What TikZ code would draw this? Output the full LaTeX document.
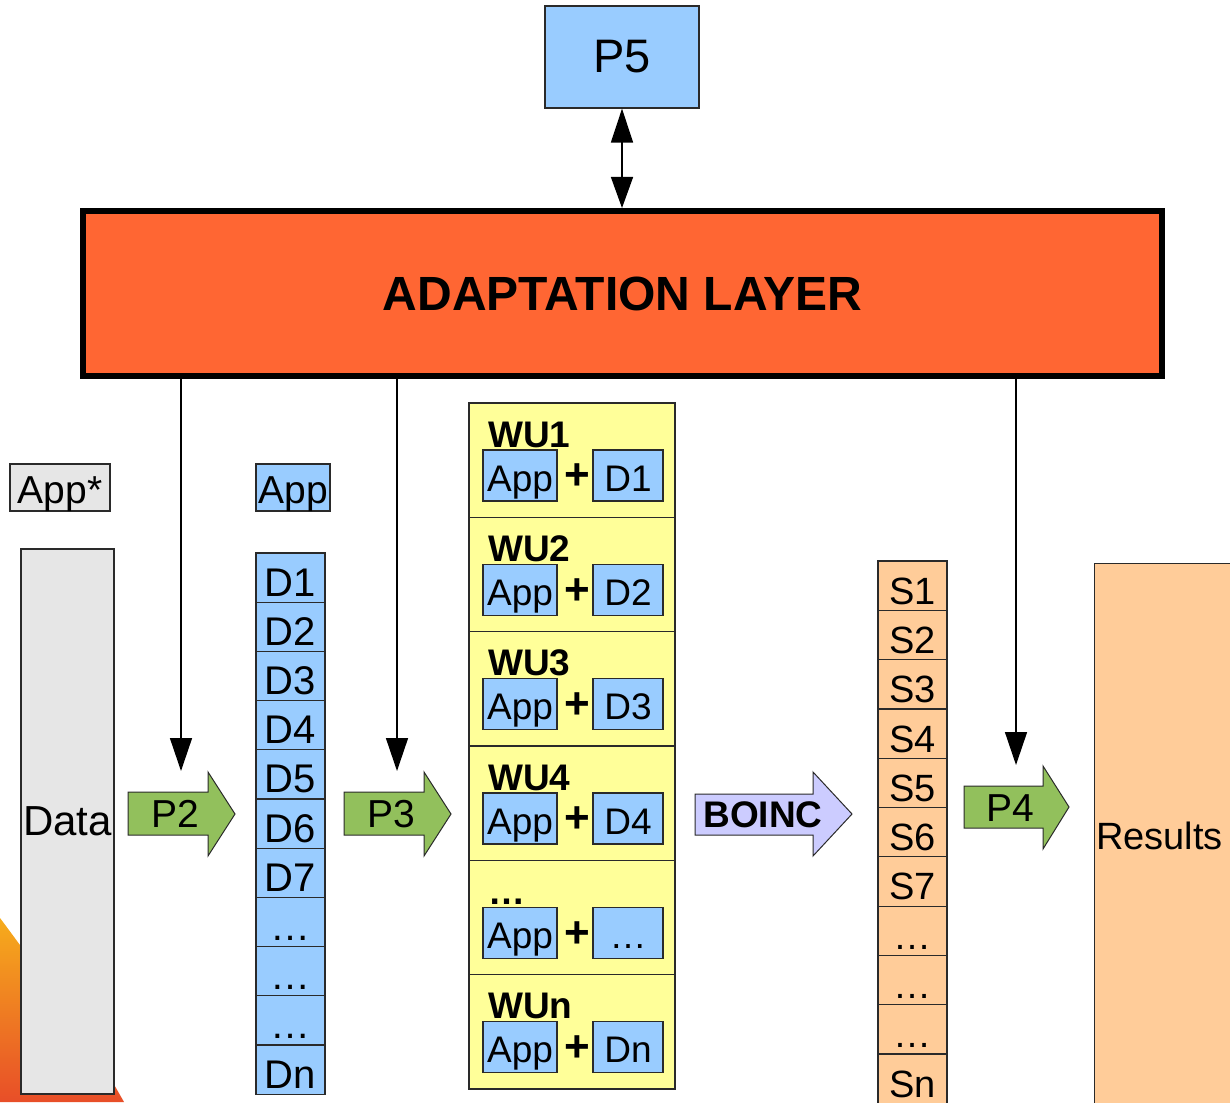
\documentclass[tikz,border=0pt]{standalone}
\usepackage{fontspec}
\setmainfont{Liberation Sans}
\usetikzlibrary{arrows.meta}
\definecolor{blu}{HTML}{99CCFF}
\definecolor{gry}{HTML}{E6E6E6}
\definecolor{ylw}{HTML}{FFFF99}
\definecolor{pch}{HTML}{FFCC99}
\definecolor{grn}{RGB}{146,192,92}
\definecolor{lav}{HTML}{CCCCFF}
\definecolor{orng}{HTML}{FF6633}
\definecolor{edge}{HTML}{2A2A2A}
\definecolor{bgtop}{RGB}{246,172,28}
\definecolor{bgbot}{RGB}{232,78,40}
\newcommand\fs[1]{\fontsize{#1}{#1}\selectfont}
\tikzset{
  box/.style={draw=edge, line width=1.2pt, inner sep=0pt},
  cellD/.style={box, fill=blu, minimum width=69pt, minimum height=49.2pt, text height=37pt, text depth=0pt, font=\fs{40}},
  cellS/.style={box, fill=pch, minimum width=69pt, minimum height=49.3pt, text height=37pt, text depth=0pt, font=\fs{38}},
  wucell/.style={box, fill=ylw, minimum width=206pt, minimum height=114.33pt},
  appbox/.style={box, fill=blu, minimum width=74pt, minimum height=51pt, text height=31pt, text depth=0pt, font=\fs{37}},
  dbox/.style={box, fill=blu, minimum width=70pt, minimum height=51pt, text height=31pt, text depth=0pt, font=\fs{37}},
  wutitle/.style={anchor=base west, inner sep=0pt, font=\fs{37}\bfseries},
  plus/.style={inner sep=0pt, font=\fs{44}\bfseries},
  fat/.style={draw=edge, line width=1pt},
  dn/.style={line width=1.5pt, -{Triangle[length=33pt,width=22pt]}},
}
\begin{document}
\begin{tikzpicture}[x=1pt,y=-1pt]
\useasboundingbox (0,0) rectangle (1230,1102);

% background decoration bottom-left
\shade[top color=bgtop, bottom color=bgbot] (0,918) .. controls (50,985) and (95,1050) .. (124,1102) -- (0,1102) -- cycle;

% P5 and adaptation layer
\node[box, fill=blu, minimum width=154pt, minimum height=102pt, font=\fs{47}] (p5) at (622,57) {P5};
\node[draw=black, line width=6pt, fill=orng, minimum width=1079pt, minimum height=165pt, inner sep=0pt, font=\fs{48}\bfseries] (layer) at (622.5,293.5) {ADAPTATION LAYER};
\draw[line width=1.5pt, {Triangle[length=34pt,width=22pt]}-{Triangle[length=31pt,width=22pt]}] (p5.south) -- (p5.south |- layer.north);

% down arrows
\coordinate (t2) at (181,771);
\coordinate (t3) at (397,771);
\coordinate (t4) at (1016,765);
\draw[dn] (layer.south -| t2) -- (t2);
\draw[dn] (layer.south -| t3) -- (t3);
\draw[dn] (layer.south -| t4) -- (t4);

% left: App* and Data
\node[box, fill=gry, minimum width=100pt, minimum height=47pt, text height=31pt, text depth=0pt, font=\fs{39}] (appstar) at (60,487.5) {App*};
\node[box, fill=gry, minimum width=93pt, minimum height=545pt, font=\fs{42}] (data) at (67.5,821.5) {Data};

% P2 arrow
\draw[fat, fill=grn] (128,792) -- (208,792) -- (208,772) -- (235,814) -- (208,856) -- (208,835) -- (128,835) -- cycle;
\node[font=\fs{39}, inner sep=0pt] (p2) at (175,814) {P2};

% App + D column
\node[box, fill=blu, minimum width=74pt, minimum height=47pt, text height=31pt, text depth=0pt, font=\fs{39}] (app) at (293,487.5) {App};
\foreach \lab [count=\i from 0] in {D1,D2,D3,D4,D5,D6,D7,…,…,…,Dn} {
  \node[cellD] (d\i) at (290.5, 553+24.6+\i*49.2) {\lab};
}

% P3 arrow
\draw[fat, fill=grn] (344,792) -- (424,792) -- (424,772) -- (451,814) -- (424,856) -- (424,835) -- (344,835) -- cycle;
\node[font=\fs{39}, inner sep=0pt] (p3) at (391,814) {P3};

% WU column
\foreach \tit/\lab [count=\i from 0] in {WU1/D1,WU2/D2,WU3/D3,WU4/D4,…/…,WUn/Dn} {
  \pgfmathsetmacro\T{403+\i*114.33}
  \node[wucell] (wu\i) at (572,\T+57.17) {};
  \node[wutitle] (wut\i) at (488,\T+44) {\tit};
  \node[appbox] (wua\i) at (520,\T+72.5) {App};
  \node[plus] (wup\i) at (577,\T+74) {+};
  \node[dbox] (wud\i) at (628,\T+72.5) {\lab};
}

% BOINC arrow
\draw[fat, fill=lav] (695,794) -- (813,794) -- (813,772) -- (852,814) -- (813,856) -- (813,835) -- (695,835) -- cycle;
\node[font=\fs{37}\bfseries, inner sep=0pt] (boinc) at (763,815) {BOINC};

% S column
\foreach \lab [count=\i from 0] in {S1,S2,S3,S4,S5,S6,S7,…,…,…,Sn} {
  \node[cellS] (s\i) at (912.5, 561+24.65+\i*49.3) {\lab};
}

% P4 arrow
\draw[fat, fill=grn] (964,786) -- (1043,786) -- (1043,766) -- (1069,807) -- (1043,849) -- (1043,828) -- (964,828) -- cycle;
\node[font=\fs{39}, inner sep=0pt] (p4) at (1010,808) {P4};

% Results
\node[box, fill=pch, minimum width=150pt, minimum height=560pt, anchor=north west] (res) at (1094,563) {};
\node[font=\fs{38}, inner sep=0pt, anchor=west] (restext) at (1096,836) {Results};
\end{tikzpicture}
\end{document}
